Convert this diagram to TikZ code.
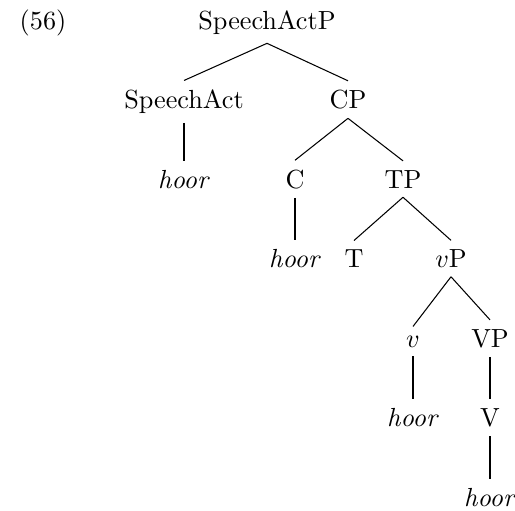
\documentclass[tikz,border=0pt]{standalone}
\begin{document}
\begin{tikzpicture}[x=0.3817pt,y=-0.3817pt,
  lab/.style={anchor=base,inner sep=0.3333em},
  br/.style={draw=black,line width=0.4pt}]
\useasboundingbox (0,0) rectangle (515,510);
\node[lab] (ex) at (43,29) {(56)};
\node[lab] (sap) at (267,29) {SpeechActP};
\node[lab] (sa) at (184,108.5) {SpeechAct};
\node[lab] (cp) at (348,108.5) {CP};
\node[lab] (h1) at (184,188) {\textit{hoor}};
\node[lab] (c) at (295,188) {C};
\node[lab] (tp) at (403,188) {TP};
\node[lab] (h2) at (295,267.5) {\textit{hoor}};
\node[lab] (t) at (354,267.5) {T};
\node[lab] (vp) at (451,267.5) {$v$P};
\node[lab] (v) at (413,347) {$v$};
\node[lab] (VP) at (490,347) {VP};
\node[lab] (h3) at (413,426.5) {\textit{hoor}};
\node[lab] (V) at (490,426.5) {V};
\node[lab] (h4) at (490,506) {\textit{hoor}};
\draw[br] (sap.south) -- (sa.north);
\draw[br] (sap.south) -- (cp.north);
\draw[br] (sa.south) -- (h1.north);
\draw[br] (cp.south) -- (c.north);
\draw[br] (cp.south) -- (tp.north);
\draw[br] (c.south) -- (h2.north);
\draw[br] (tp.south) -- (t.north);
\draw[br] (tp.south) -- (vp.north);
\draw[br] (vp.south) -- (v.north);
\draw[br] (vp.south) -- (VP.north);
\draw[br] (v.south) -- (h3.north);
\draw[br] (VP.south) -- (V.north);
\draw[br] (V.south) -- (h4.north);
\end{tikzpicture}
\end{document}
